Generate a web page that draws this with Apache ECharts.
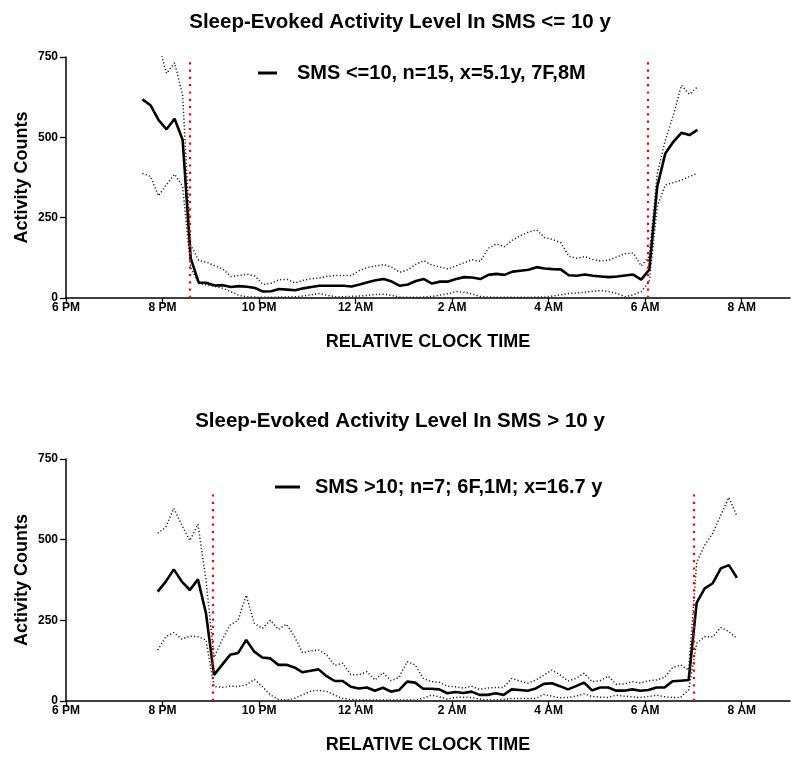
<!DOCTYPE html>
<html>
<head>
<meta charset="utf-8">
<script src="https://cdn.jsdelivr.net/npm/echarts@6/dist/echarts.min.js"></script>
<style>
html,body{margin:0;padding:0;background:#fff;}
#c{width:800px;height:760px;}
</style>
</head>
<body>
<div id="c"></div>
<script>
// ---------- DATA ----------
const xTickLabels = ['6 PM', '8 PM', '10 PM', '12 AM', '2 AM', '4 AM', '6 AM', '8 AM'];
const xMin = 18, xMax = 33, xStep = 2;          // hours (18 = 6 PM, 33 = 9 AM)
const sampleStepH = 10 / 60;                    // 10-minute bins

const titleTop = 'Sleep-Evoked Activity Level In SMS <= 10 y';
const titleBottom = 'Sleep-Evoked Activity Level In SMS > 10 y';
const nameTop = 'SMS <=10, n=15, x=5.1y, 7F,8M';
const nameBottom = 'SMS >10; n=7; 6F,1M; x=16.7 y';

// Top panel (SMS <= 10 y): first bin 7:35 PM
const topStart = 19 + 35 / 60;
const topMean = [618, 600, 554, 525, 558, 492, 124, 48, 47, 39, 40, 34, 37, 35, 31, 20, 21, 28, 26, 24,
  30, 34, 38, 38, 38, 38, 36, 42, 49, 55, 59, 51, 38, 42, 53, 59, 45, 51, 51, 59,
  65, 64, 59, 72, 75, 72, 82, 85, 88, 96, 92, 90, 89, 71, 69, 73, 69, 67, 65, 67,
  70, 73, 57, 88, 347, 450, 486, 514, 507, 523];
const topUpper = [851, 822, 790, 699, 732, 630, 165, 117, 111, 100, 90, 67, 70, 74, 68, 42, 46, 57, 58, 47,
  55, 60, 62, 68, 70, 70, 70, 86, 95, 100, 104, 96, 80, 88, 105, 116, 102, 97, 90, 100,
  110, 119, 114, 155, 168, 160, 180, 194, 205, 212, 188, 182, 172, 130, 124, 129, 120, 115, 118, 128,
  138, 140, 100, 130, 388, 491, 569, 662, 634, 657];
const topLower = [388, 378, 318, 353, 385, 347, 95, 45, 40, 36, 30, 20, 8, 4, 3, 2, 2, 3, 3, 4,
  6, 10, 14, 8, 4, 4, 5, 6, 8, 11, 12, 8, 3, 2, 2, 3, 5, 9, 13, 20,
  18, 12, 5, 3, 2, 2, 2, 2, 2, 3, 3, 6, 10, 14, 16, 18, 21, 23, 20, 14,
  4, 10, 20, 50, 284, 352, 359, 367, 378, 388];
const topSleepMarks = [20.57, 30.05];
const topMarkMax = 750;

// Bottom panel (SMS > 10 y): first bin 7:54 PM
const bottomStart = 19.9;
const bottomMean = [339, 370, 408, 370, 344, 377, 272, 81, 112, 143, 149, 189, 153, 135, 132, 112, 112, 104, 89, 94,
  98, 77, 62, 62, 44, 39, 42, 32, 41, 29, 34, 60, 57, 38, 38, 36, 24, 28, 25, 29,
  19, 19, 24, 19, 36, 34, 32, 39, 53, 55, 46, 36, 46, 57, 33, 42, 42, 32, 32, 36,
  32, 34, 42, 42, 61, 63, 65, 305, 349, 365, 411, 421, 382];
const bottomUpper = [520, 538, 597, 545, 497, 548, 375, 135, 189, 235, 251, 328, 241, 225, 250, 222, 238, 200, 150, 155,
  158, 143, 110, 117, 82, 81, 91, 65, 88, 63, 73, 122, 112, 70, 60, 58, 46, 44, 40, 46,
  36, 40, 42, 42, 70, 62, 55, 65, 80, 96, 81, 62, 70, 86, 60, 63, 77, 52, 53, 60,
  56, 63, 65, 73, 103, 112, 96, 430, 483, 520, 576, 631, 573];
const bottomLower = [158, 199, 212, 192, 201, 199, 189, 45, 42, 46, 45, 50, 67, 45, 19, 5, 3, 8, 19, 30,
  33, 30, 18, 8, 5, 3, 3, 3, 3, 3, 3, 3, 3, 8, 18, 13, 6, 11, 12, 11,
  6, 3, 3, 5, 8, 8, 8, 8, 20, 15, 10, 11, 15, 22, 14, 12, 11, 18, 15, 13,
  11, 14, 18, 13, 11, 11, 35, 179, 199, 199, 228, 215, 194];
const bottomSleepMarks = [21.04, 31.0];
const bottomMarkMax = 645;

const yMin = 0, yMax = 750, yStep = 250;

// ---------- CHART ----------
const FONT = '"Liberation Sans", Arial, Helvetica, sans-serif';
function pairs(start, vals) { return vals.map((v, i) => [start + i * sampleStepH, v]); }

function xAxisCfg(gi) {
  return {
    type: 'value', gridIndex: gi, min: xMin, max: xMax, interval: xStep,
    name: 'RELATIVE CLOCK TIME', nameLocation: 'middle', nameGap: 35,
    nameTextStyle: { fontFamily: FONT, fontWeight: 'bold', fontSize: 18, color: '#000' },
    axisLine: { show: true, lineStyle: { color: '#000', width: 1.5 } },
    axisTick: { show: true, length: 6, lineStyle: { color: '#000', width: 1.3 } },
    axisLabel: {
      margin: 4, color: '#000', fontFamily: FONT, fontWeight: 'bold', fontSize: 12,
      showMaxLabel: false,
      formatter: v => { const k = Math.round((v - xMin) / xStep); return (k >= 0 && k < xTickLabels.length) ? xTickLabels[k] : ''; }
    },
    splitLine: { show: false }
  };
}
function yAxisCfg(gi) {
  return {
    type: 'value', gridIndex: gi, min: yMin, max: yMax, interval: yStep,
    name: 'Activity Counts', nameLocation: 'middle', nameGap: 35, nameRotate: 90,
    nameMoveOverlap: false,
    nameTextStyle: { fontFamily: FONT, fontWeight: 'bold', fontSize: 18, color: '#000' },
    axisLine: { show: true, lineStyle: { color: '#000', width: 1.5 } },
    axisTick: { show: true, length: 6, lineStyle: { color: '#000', width: 1.3 } },
    axisLabel: { margin: 8, color: '#000', fontFamily: FONT, fontWeight: 'bold', fontSize: 12 },
    splitLine: { show: false }
  };
}
function bandSeries(gi, start, vals) {
  return {
    type: 'line', xAxisIndex: gi, yAxisIndex: gi, data: pairs(start, vals),
    showSymbol: false, silent: true, z: 2,
    lineStyle: { color: '#222', width: 1.5, type: [1.2, 2.2] }
  };
}
function meanSeries(gi, name, start, vals, marks, markMax) {
  return {
    type: 'line', name: name, xAxisIndex: gi, yAxisIndex: gi, data: pairs(start, vals),
    showSymbol: false, z: 4, color: '#000',
    lineStyle: { color: '#000', width: 2.6 },
    markLine: {
      silent: true, symbol: 'none', label: { show: false },
      lineStyle: { color: '#ff0000', width: 2.2, type: [2.2, 5.1] },
      data: marks.map(x => [{ coord: [x, yMin] }, { coord: [x, markMax] }])
    }
  };
}

const chart = echarts.init(document.getElementById('c'), null, { renderer: 'canvas' });
chart.setOption({
  animation: false,
  backgroundColor: '#fff',
  title: [
    { text: titleTop, left: 'center', top: 7, textStyle: { fontFamily: FONT, fontWeight: 'bold', fontSize: 20.5, color: '#000' } },
    { text: titleBottom, left: 'center', top: 406, textStyle: { fontFamily: FONT, fontWeight: 'bold', fontSize: 20.5, color: '#000' } }
  ],
  legend: [
    { data: [nameTop], left: 253, top: 58, icon: 'rect', itemWidth: 19, itemHeight: 3,
      textStyle: { fontFamily: FONT, fontWeight: 'bold', fontSize: 20, color: '#000', padding: [0, 0, 0, 15] } },
    { data: [nameBottom], left: 270, top: 472, icon: 'rect', itemWidth: 25, itemHeight: 3,
      textStyle: { fontFamily: FONT, fontWeight: 'bold', fontSize: 20, color: '#000', padding: [0, 0, 0, 10] } }
  ],
  grid: [
    { left: 66, top: 57, width: 724, height: 241 },
    { left: 66, top: 459, width: 724, height: 242 }
  ],
  xAxis: [xAxisCfg(0), xAxisCfg(1)],
  yAxis: [yAxisCfg(0), yAxisCfg(1)],
  series: [
    bandSeries(0, topStart, topUpper),
    bandSeries(0, topStart, topLower),
    meanSeries(0, nameTop, topStart, topMean, topSleepMarks, topMarkMax),
    bandSeries(1, bottomStart, bottomUpper),
    bandSeries(1, bottomStart, bottomLower),
    meanSeries(1, nameBottom, bottomStart, bottomMean, bottomSleepMarks, bottomMarkMax)
  ]
});
</script>
</body>
</html>
